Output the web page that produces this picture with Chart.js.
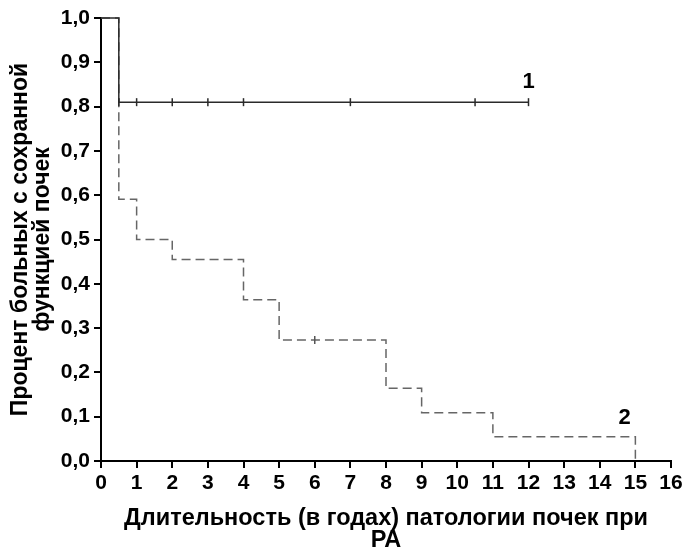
<!DOCTYPE html>
<html>
<head>
<meta charset="utf-8">
<script src="https://cdn.jsdelivr.net/npm/chart.js@4/dist/chart.umd.min.js"></script>
<style>
  html, body { margin: 0; padding: 0; background: #fff; }
  canvas { display: block; }
</style>
</head>
<body>
<canvas id="kmChart" width="684" height="551"></canvas>
<script>
// Кривые выживаемости (Каплан-Мейер): время в годах и доля больных
const years1 = [0, 0.5, 12];
const surv1 = [1.0, 0.81, 0.81];
const censor1 = [0.5, 1, 2, 3, 4, 7, 10.5, 12];

const years2 = [0, 0.5, 1, 2, 4, 5, 8, 9, 11, 15];
const surv2 = [1.0, 0.591, 0.5, 0.455, 0.364, 0.273, 0.164, 0.109, 0.055, 0];
const censor2 = [6];

const curveNames = ["1", "2"];
// где подписать номер кривой (годы, доля)
const nameAt = [[12, 0.855], [14.7, 0.098]];

const xTitle = ["Длительность (в годах) патологии почек при", "РА"];
const yTitle = ["Процент больных с сохранной", "функцией почек"];

const FONT = "'Liberation Sans', Arial, sans-serif";

// значение ступенчатой кривой в момент t
function levelAt(xs, ys, t) {
  let v = ys[0];
  for (let i = 0; i < xs.length; i++) if (xs[i] <= t) v = ys[i];
  return v;
}

const pts = (xs, ys) => xs.map((x, i) => ({ x: x, y: ys[i] }));
const marks = (cs, xs, ys) => cs.map(t => ({ x: t, y: levelAt(xs, ys, t) }));

// номера кривых
const curveLabels = {
  id: "curveLabels",
  afterDatasetsDraw(chart) {
    const { ctx, scales: { x, y } } = chart;
    ctx.save();
    ctx.fillStyle = "#000";
    ctx.font = "bold 22px " + FONT;
    ctx.textAlign = "center";
    ctx.textBaseline = "middle";
    curveNames.forEach((name, i) => {
      ctx.fillText(name, x.getPixelForValue(nameAt[i][0]), y.getPixelForValue(nameAt[i][1]));
    });
    ctx.restore();
  }
};

new Chart(document.getElementById("kmChart"), {
  type: "scatter",
  data: {
    datasets: [
      {
        data: pts(years1, surv1),
        showLine: true,
        stepped: "before",
        borderColor: "#2a2a2a",
        borderWidth: 1.5,
        pointRadius: 0,
        clip: false,
        order: 1
      },
      {
        data: marks(censor1, years1, surv1),
        showLine: false,
        pointStyle: "line",
        rotation: 90,
        pointRadius: 4,
        borderColor: "#2a2a2a",
        borderWidth: 1.5,
        clip: false,
        order: 0
      },
      {
        data: pts(years2, surv2),
        showLine: true,
        stepped: "before",
        borderColor: "#666",
        borderWidth: 1.5,
        borderDash: [9, 5],
        pointRadius: 0,
        clip: false,
        order: 3
      },
      {
        data: marks(censor2, years2, surv2),
        showLine: false,
        pointStyle: "line",
        rotation: 90,
        pointRadius: 4,
        borderColor: "#555",
        borderWidth: 1.5,
        clip: false,
        order: 2
      }
    ]
  },
  options: {
    responsive: false,
    animation: false,
    layout: { autoPadding: false, padding: { top: 18, right: 13, left: 0, bottom: 0 } },
    plugins: {
      legend: { display: false },
      tooltip: { enabled: false }
    },
    scales: {
      x: {
        type: "linear",
        min: 0,
        max: 16,
        afterFit: s => { s.height = 90; s.paddingLeft = 0; s.paddingRight = 0; },
        ticks: {
          stepSize: 1,
          color: "#000",
          padding: 3,
          maxRotation: 0,
          font: { family: FONT, size: 21, weight: "bold" }
        },
        grid: { drawOnChartArea: false, tickLength: 7, color: "#000", lineWidth: 2 },
        border: { color: "#000", width: 2 },
        title: {
          display: true,
          text: xTitle,
          color: "#000",
          padding: { top: 0, bottom: 0 },
          font: { family: FONT, size: 23.5, weight: "bold", lineHeight: 0.915 }
        }
      },
      y: {
        type: "linear",
        min: 0,
        max: 1,
        afterFit: s => { s.width = 101; },
        ticks: {
          stepSize: 0.1,
          color: "#000",
          padding: 4,
          font: { family: FONT, size: 21, weight: "bold" },
          callback: v => v.toFixed(1).replace(".", ",")
        },
        grid: { drawOnChartArea: false, tickLength: 7, color: "#000", lineWidth: 2 },
        border: { color: "#000", width: 2 },
        title: {
          display: true,
          text: yTitle,
          color: "#000",
          padding: { top: 10, bottom: 0 },
          font: { family: FONT, size: 23, weight: "bold", lineHeight: 0.96 }
        }
      }
    }
  },
  plugins: [curveLabels]
});
</script>
</body>
</html>
